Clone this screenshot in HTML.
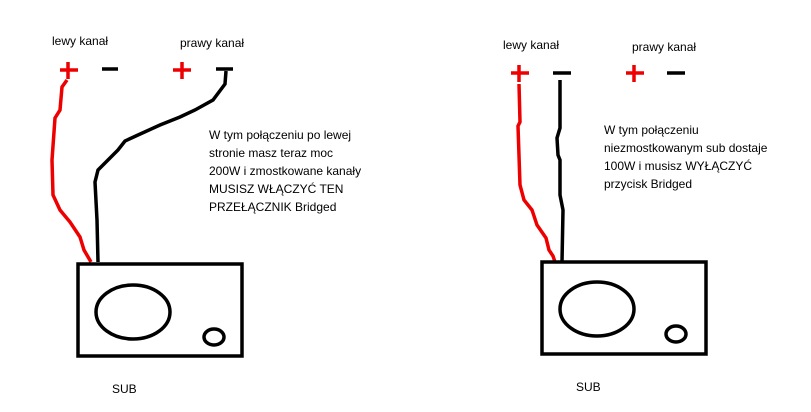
<!DOCTYPE html>
<html><head><meta charset="utf-8"><style>
html,body{margin:0;padding:0;background:#fff;}
svg{display:block;}
text{font-family:"Liberation Sans",sans-serif;font-size:12px;fill:#000;}
</style></head><body>
<svg width="811" height="412" viewBox="0 0 811 412" xmlns="http://www.w3.org/2000/svg">
<!-- LEFT -->
<text x="52" y="45">lewy kanał</text>
<text x="180" y="47">prawy kanał</text>
<g stroke="#e00" stroke-width="3.5" fill="none">
<line x1="60" y1="70" x2="78" y2="70"/><line x1="68" y1="62" x2="68" y2="79"/>
<line x1="173" y1="70" x2="191" y2="70"/><line x1="182" y1="62" x2="182" y2="79"/>
<polyline points="67,80 62,87 60,110 55,118 52,160 53,195 60,210 70,222 80,237 84,250 91,262"/>
</g>
<g stroke="#000" stroke-width="3.5" fill="none">
<line x1="102" y1="69" x2="118" y2="69"/>
<line x1="216" y1="69" x2="233" y2="69"/>
<polyline points="226,71 225,84 213,100 195,110 180,117 160,125 138,135 125,141 118,150 110,158 98,170 95,182 97,220 98,262"/>
<rect x="78" y="264" width="164" height="92"/>
<ellipse cx="133" cy="312" rx="37" ry="27"/>
<ellipse cx="214" cy="337" rx="10" ry="8"/>
</g>
<text x="209" y="139">W tym połączeniu po lewej</text>
<text x="209" y="157">stronie masz teraz moc</text>
<text x="209" y="175">200W i zmostkowane kanały</text>
<text x="209" y="193">MUSISZ WŁĄCZYĆ TEN</text>
<text x="209" y="211">PRZEŁĄCZNIK Bridged</text>
<text x="112" y="393">SUB</text>
<!-- RIGHT -->
<text x="503" y="49">lewy kanał</text>
<text x="632" y="51">prawy kanał</text>
<g stroke="#e00" stroke-width="3.5" fill="none">
<line x1="511" y1="73" x2="529" y2="73"/><line x1="519" y1="65" x2="519" y2="82"/>
<line x1="626" y1="73" x2="644" y2="73"/><line x1="634" y1="65" x2="634" y2="82"/>
<polyline points="519,84 520,122 518,126 520,185 524,200 532,210 537,225 546,238 549,250 553,256 555,262"/>
</g>
<g stroke="#000" stroke-width="3.5" fill="none">
<line x1="553" y1="73" x2="571" y2="73"/>
<line x1="667" y1="73" x2="685" y2="73"/>
<polyline points="560,80 560,128 557,138 558,155 560,160 560,195 563,210 562,262"/>
<rect x="542" y="262" width="164" height="92"/>
<ellipse cx="597" cy="309" rx="37" ry="27"/>
<ellipse cx="676" cy="334" rx="10" ry="8"/>
</g>
<text x="604" y="134">W tym połączeniu</text>
<text x="604" y="152">niezmostkowanym sub dostaje</text>
<text x="604" y="170">100W i musisz WYŁĄCZYĆ</text>
<text x="604" y="188">przycisk Bridged</text>
<text x="576" y="391">SUB</text>
</svg>
</body></html>
